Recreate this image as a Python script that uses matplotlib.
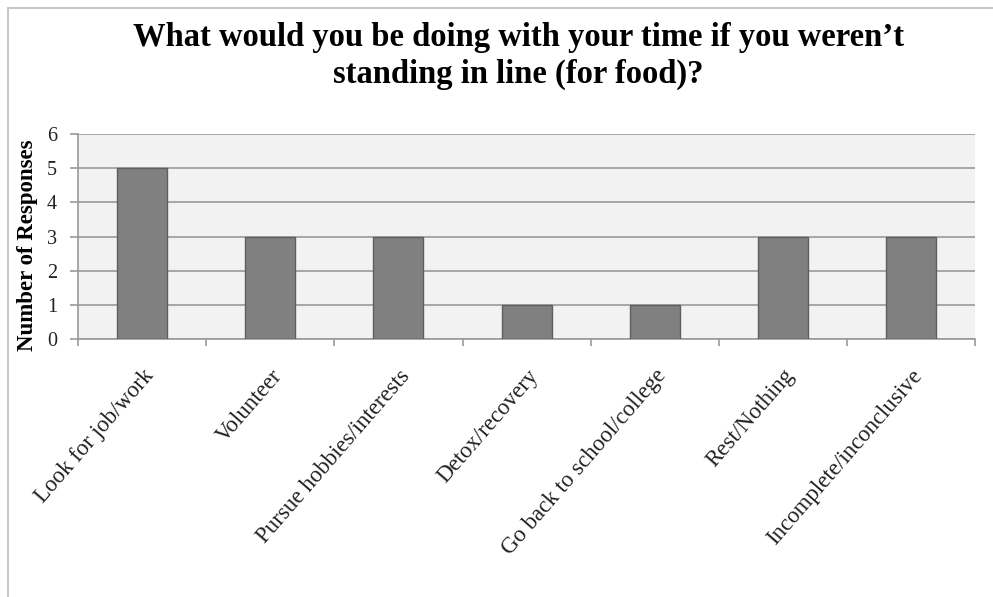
import matplotlib.pyplot as plt
from matplotlib.patches import Rectangle
from matplotlib.transforms import ScaledTranslation
import numpy as np

categories = ["Look for job/work", "Volunteer", "Pursue hobbies/interests",
              "Detox/recovery", "Go back to school/college", "Rest/Nothing",
              "Incomplete/inconclusive"]
responses = [5, 3, 3, 1, 1, 3, 3]
y_ticks = [0, 1, 2, 3, 4, 5, 6]

fig = plt.figure(figsize=(9.93, 5.97), dpi=100)
fig.patches.append(Rectangle((8/993, -0.01), 1.0, 1 - 8/597 + 0.01, transform=fig.transFigure,
                             fill=False, edgecolor='#c8c8c8', linewidth=1.5))

ax = fig.add_axes([0.0786, 0.432, 0.9034, 0.3435])
ax.set_facecolor('#f2f2f2')
x = np.arange(len(categories))
ax.bar(x, responses, width=0.39, color='#808080', edgecolor='#5e5e5e', linewidth=1, zorder=3)

ax.set_xlim(-0.5, len(categories) - 0.5)
ax.set_ylim(0, 6)
ax.set_yticks(y_ticks)
ax.set_yticklabels([str(v) for v in y_ticks], family='Liberation Serif')
ax.yaxis.grid(True, color='#9a9a9a', linewidth=1.2, zorder=0)
ax.set_axisbelow(True)

ax.set_xticks(x)
ax.set_xticklabels(categories, rotation=49, ha='right', rotation_mode='anchor',
                   family='Liberation Serif', fontsize=16.5, color='#222222')
shift = ScaledTranslation(6/100, 0, fig.dpi_scale_trans)
for lbl in ax.get_xticklabels():
    lbl.set_transform(lbl.get_transform() + shift)
ax.tick_params(axis='x', length=0, pad=19)
ax.set_xticks(np.arange(-0.5, len(categories)), minor=True)
ax.tick_params(axis='x', which='minor', length=5, color='#9a9a9a', width=1.2)
ax.tick_params(axis='y', length=6, color='#9a9a9a', width=1.2, labelsize=14.5,
               labelcolor='#222222', pad=9)

for side in ['top', 'right']:
    ax.spines[side].set_visible(False)
ax.spines['left'].set_color('#9a9a9a')
ax.spines['bottom'].set_color('#9a9a9a')
ax.spines['left'].set_linewidth(1.2)
ax.spines['bottom'].set_linewidth(1.2)

ax.set_ylabel("Number of Responses", family='Liberation Serif', fontweight='bold',
              fontsize=16.5)
ax.yaxis.set_label_coords(-0.045, 0.46)

fig.text(0.522, 0.906, "What would you be doing with your time if you weren\u2019t\nstanding in line (for food)?",
         ha='center', va='center', family='Liberation Serif', fontweight='bold',
         fontsize=23.5, linespacing=1.22)

fig.savefig("out.png", dpi=100)
